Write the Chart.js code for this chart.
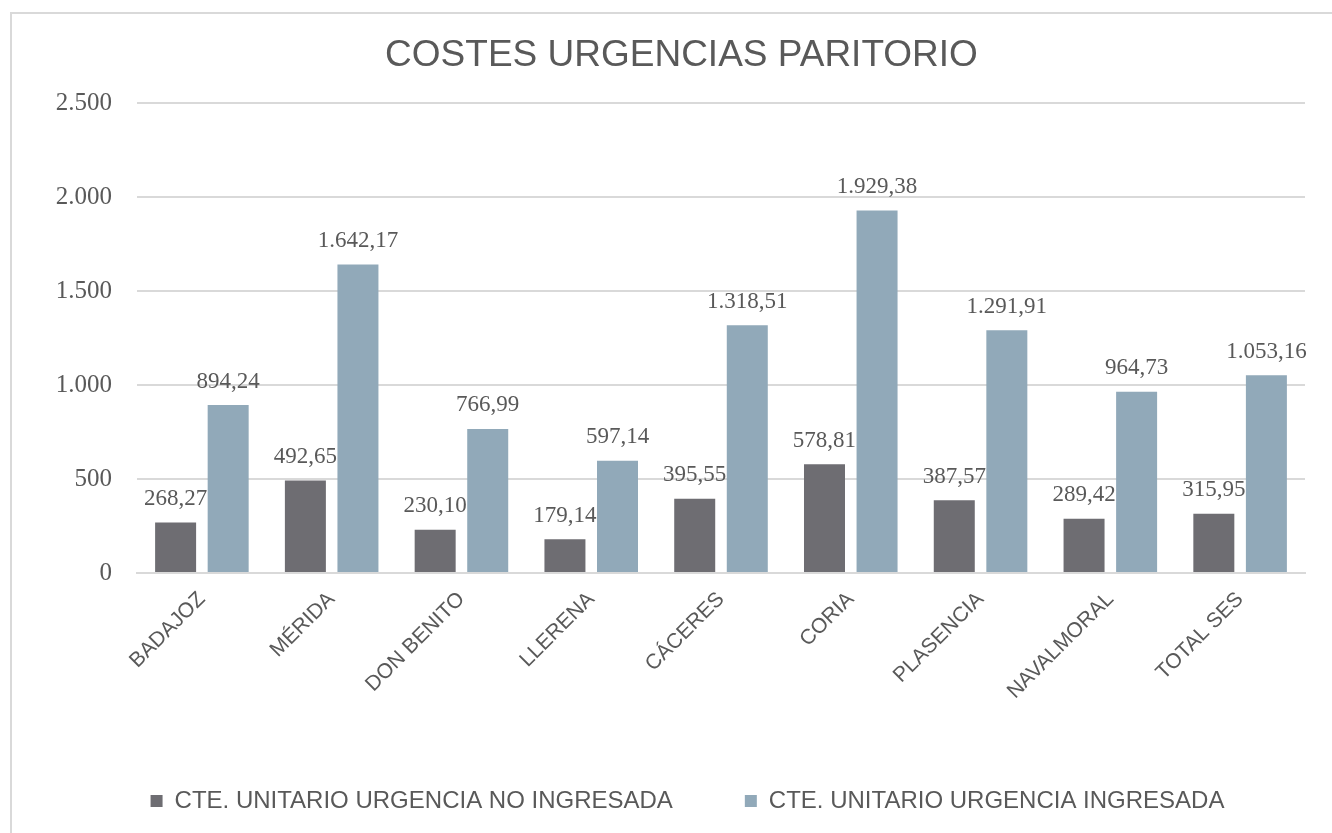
<!DOCTYPE html>
<html>
<head>
<meta charset="utf-8">
<title>Costes urgencias paritorio</title>
<script src="https://cdn.jsdelivr.net/npm/chart.js@4/dist/chart.umd.min.js"></script>
<style>
  html, body { margin: 0; padding: 0; background: #fff; }
  body { width: 1332px; height: 833px; overflow: hidden; position: relative; }
  #frame {
    position: absolute; left: 10px; top: 12px;
    width: 1340px; height: 840px;
    border: 2px solid #d9d9d9; box-sizing: border-box;
  }
  #wrap { position: absolute; left: 0; top: 0; width: 1332px; height: 833px; }
</style>
</head>
<body>
<div id="frame"></div>
<div id="wrap"><canvas id="costChart"></canvas></div>
<script>
/* =======================
   DATA
======================= */
const hospitals = ["BADAJOZ", "MÉRIDA", "DON BENITO", "LLERENA", "CÁCERES", "CORIA", "PLASENCIA", "NAVALMORAL", "TOTAL SES"];
const noIngresada = [268.27, 492.65, 230.10, 179.14, 395.55, 578.81, 387.57, 289.42, 315.95];
const ingresada = [894.24, 1642.17, 766.99, 597.14, 1318.51, 1929.38, 1291.91, 964.73, 1053.16];
const seriesNames = ["CTE. UNITARIO URGENCIA NO INGRESADA", "CTE. UNITARIO URGENCIA INGRESADA"];

const TEXT = "#595959";
const GRID = "#d9d9d9";

// spanish number format: 1.642,17
function fmt(v, dec) {
  const parts = v.toFixed(dec).split(".");
  const int = parts[0].replace(/\B(?=(\d{3})+(?!\d))/g, ".");
  return parts[1] ? int + "," + parts[1] : int;
}

/* =======================
   VALUE LABELS ON BARS
======================= */
const barLabels = {
  id: "barLabels",
  afterDatasetsDraw(chart) {
    const ctx = chart.ctx;
    ctx.save();
    ctx.font = "23px 'Liberation Serif'";
    ctx.fillStyle = TEXT;
    ctx.textAlign = "center";
    ctx.textBaseline = "bottom";
    chart.data.datasets.forEach((ds, i) => {
      chart.getDatasetMeta(i).data.forEach((bar, j) => {
        ctx.fillText(fmt(ds.data[j], 2), bar.x, bar.y - 12);
      });
    });
    ctx.restore();
  }
};

/* =======================
   NUDGE TITLE / LEGEND
   (center them a bit to the right of the y axis box)
======================= */
const nudgeBoxes = {
  id: "nudgeBoxes",
  afterLayout(chart) {
    chart.titleBlock.left += 3;
    chart.titleBlock.right += 3;
    chart.legend.left += 9;
    chart.legend.right += 9;
  }
};

/* =======================
   CHART
======================= */
new Chart(document.getElementById("costChart"), {
  type: "bar",
  data: {
    labels: hospitals,
    datasets: [{
      label: seriesNames[0],
      data: noIngresada,
      backgroundColor: "#6e6d72"
    }, {
      label: seriesNames[1],
      data: ingresada,
      backgroundColor: "#91a9b9"
    }]
  },
  options: {
    responsive: true,
    maintainAspectRatio: false,
    animation: false,
    categoryPercentage: 0.81,
    barPercentage: 0.78,
    layout: { padding: { left: 52, right: 27, top: 0, bottom: 10 } },
    plugins: {
      title: {
        display: true,
        text: "COSTES URGENCIAS PARITORIO",
        color: TEXT,
        font: { family: "'Liberation Sans'", size: 37, weight: "normal" },
        padding: { top: 34, bottom: 25 }
      },
      legend: {
        position: "bottom",
        labels: {
          color: TEXT,
          font: { family: "'Liberation Sans'", size: 24 },
          boxWidth: 12,
          boxHeight: 12,
          padding: 72
        }
      },
      tooltip: { enabled: false }
    },
    scales: {
      x: {
        grid: { display: false },
        border: { color: GRID, width: 2 },
        ticks: {
          color: TEXT,
          font: { family: "'Liberation Sans'", size: 21 },
          maxRotation: 45,
          minRotation: 45,
          padding: 6
        },
        afterFit: (scale) => { scale.height = 144; }
      },
      y: {
        min: 0,
        max: 2500,
        grid: { color: GRID, lineWidth: 2, drawTicks: false },
        border: { display: false },
        ticks: {
          stepSize: 500,
          color: TEXT,
          padding: 25,
          font: { family: "'Liberation Serif'", size: 25 },
          callback: (v) => fmt(v, 0)
        },
        afterFit: (scale) => { scale.width = 85; }
      }
    }
  },
  plugins: [barLabels, nudgeBoxes]
});
</script>
</body>
</html>
